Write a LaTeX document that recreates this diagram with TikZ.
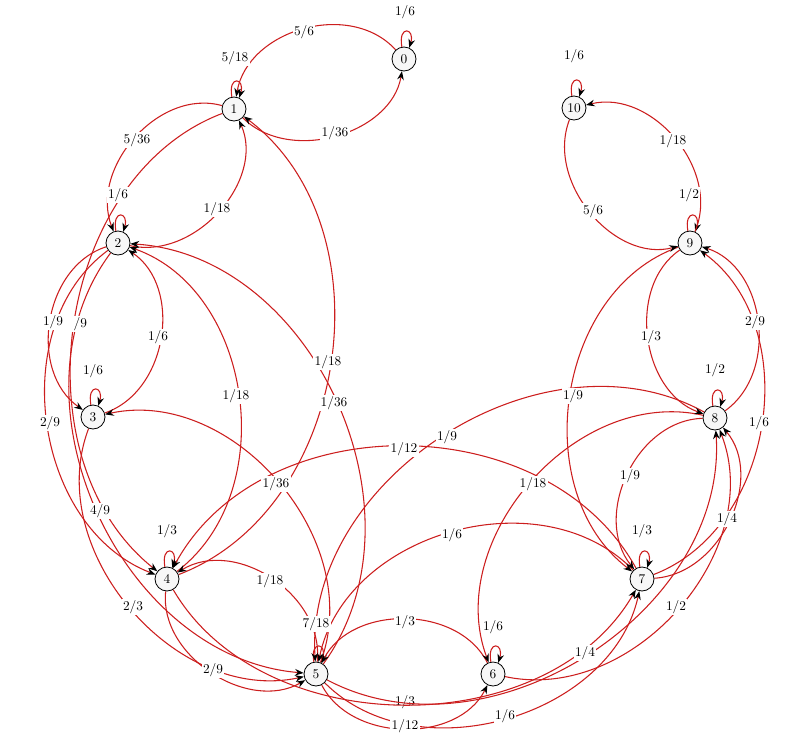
\documentclass[tikz,border=0pt]{standalone}
\usetikzlibrary{calc,arrows.meta}
\pgfdeclarelayer{edgelayer}
\pgfsetlayers{edgelayer,main}
\definecolor{edgered}{RGB}{204,30,30}
% curved edge from #1 to #2 passing through label node #3 at its middle
\newcommand\mkedge[3]{\draw[edge] (#1) .. controls ($(#1)!0.2!(#2)+1.3333*(#3)-0.6667*(#1)-0.6667*(#2)$) and ($(#2)!0.2!(#1)+1.3333*(#3)-0.6667*(#1)-0.6667*(#2)$) .. (#2);}
\newcommand\mkloop[1]{\draw[edge] (#1.100) .. controls +(-4,22) and +(6,20) .. (#1.65);}
\begin{document}
\begin{tikzpicture}[x=0.75pt,y=0.75pt,
  state/.style={circle,draw=black,line width=0.6pt,fill=black!3,minimum size=18pt,inner sep=0pt},
  lbl/.style={fill=white,inner sep=1pt},
  edge/.style={draw=edgered,line width=0.8pt,-{Stealth[length=6.5pt,width=5pt,color=black]}}]
\useasboundingbox (0,0) rectangle (800,-739);
% states
\node[state] (s0) at (404,-59) {0};
\node[state] (s1) at (234,-109) {1};
\node[state] (s2) at (118,-243) {2};
\node[state] (s3) at (93,-417) {3};
\node[state] (s4) at (167,-579) {4};
\node[state] (s5) at (316,-674) {5};
\node[state] (s6) at (493,-674) {6};
\node[state] (s7) at (642,-579) {7};
\node[state] (s8) at (715,-418) {8};
\node[state] (s9) at (690,-243) {9};
\node[state] (s10) at (574,-108) {10};
% loop labels
\node[lbl] (l0) at (405,-12) {$1/6$};
\node[lbl] (l1) at (235,-58) {$5/18$};
\node[lbl] (l2) at (118,-195) {$1/6$};
\node[lbl] (l3) at (93,-371) {$1/6$};
\node[lbl] (l4) at (167,-531) {$1/3$};
\node[lbl] (l5) at (316,-624) {$7/18$};
\node[lbl] (l6) at (493,-627) {$1/6$};
\node[lbl] (l7) at (642,-531) {$1/3$};
\node[lbl] (l8) at (715,-370) {$1/2$};
\node[lbl] (l9) at (689,-195) {$1/2$};
\node[lbl] (l10) at (574,-56) {$1/6$};
% edge labels
\node[lbl] (e1) at (304,-32) {$5/6$};
\node[lbl] (e2) at (335,-133) {$1/36$};
\node[lbl] (e3) at (137,-140) {$5/36$};
\node[lbl] (e4) at (217,-209) {$1/18$};
\node[lbl] (e5) at (53,-322) {$1/9$};
\node[lbl] (e6) at (77,-324) {$\phantom{5}/9$};
\node[lbl] (e7) at (158,-337) {$1/6$};
\node[lbl] (e8) at (236,-396) {$1/18$};
\node[lbl] (e9) at (328,-362) {$1/18$};
\node[lbl] (e10) at (334,-403) {$1/36$};
\node[lbl] (e11) at (50,-423) {$2/9$};
\node[lbl] (e12) at (100,-511) {$4/9$};
\node[lbl] (e13) at (276,-484) {$1/36$};
\node[lbl] (e14) at (404,-449) {$1/12$};
\node[lbl] (e15) at (447,-437) {$1/9$};
\node[lbl] (e16) at (270,-581) {$1/18$};
\node[lbl] (e17) at (133,-607) {$2/3$};
\node[lbl] (e18) at (213,-670) {$2/9$};
\node[lbl] (e19) at (405,-622) {$1/3$};
\node[lbl] (e21) at (405,-726) {$1/12$};
\node[lbl] (e22) at (505,-716) {$1/6$};
\node[lbl] (e23) at (585,-653) {$1/4$};
\node[lbl] (e24) at (452,-535) {$1/6$};
\node[lbl] (e25) at (533,-484) {$1/18$};
\node[lbl] (e26) at (573,-396) {$1/9$};
\node[lbl] (e27) at (630,-476) {$1/9$};
\node[lbl] (e28) at (727,-519) {$1/4$};
\node[lbl] (e29) at (676,-607) {$1/2$};
\node[lbl] (e30) at (759,-423) {$1/6$};
\node[lbl] (e31) at (755,-322) {$2/9$};
\node[lbl] (e32) at (651,-337) {$1/3$};
\node[lbl] (e33) at (673,-141) {$1/18$};
\node[lbl] (e34) at (593,-211) {$5/6$};
\begin{pgfonlayer}{edgelayer}
\node[lbl] (e20) at (405,-702) {$1/3$};
% self loops
\mkloop{s0}\mkloop{s1}\mkloop{s2}\mkloop{s3}\mkloop{s4}\mkloop{s5}
\mkloop{s6}\mkloop{s7}\mkloop{s8}\mkloop{s9}\mkloop{s10}
% transitions
\mkedge{s4}{s7}{e20}
\mkedge{s0}{s1}{e1}
\mkedge{s1}{s0}{e2}
\mkedge{s1}{s2}{e3}
\mkedge{s2}{s1}{e4}
\mkedge{s2}{s3}{e5}
\mkedge{s1}{s4}{e6}
\mkedge{s3}{s2}{e7}
\mkedge{s4}{s2}{e8}
\mkedge{s4}{s1}{e9}
\mkedge{s5}{s2}{e10}
\mkedge{s2}{s4}{e11}
\mkedge{s2}{s5}{e12}
\mkedge{s5}{s3}{e13}
\mkedge{s7}{s4}{e14}
\mkedge{s8}{s5}{e15}
\mkedge{s5}{s4}{e16}
\mkedge{s3}{s5}{e17}
\mkedge{s4}{s5}{e18}
\mkedge{s6}{s5}{e19}
\mkedge{s5}{s6}{e21}
\mkedge{s5}{s7}{e22}
\mkedge{s5}{s8}{e23}
\mkedge{s7}{s5}{e24}
\mkedge{s8}{s6}{e25}
\mkedge{s9}{s7}{e26}
\mkedge{s8}{s7}{e27}
\mkedge{s7}{s8}{e28}
\mkedge{s6}{s8}{e29}
\mkedge{s7}{s9}{e30}
\mkedge{s8}{s9}{e31}
\mkedge{s9}{s8}{e32}
\mkedge{s9}{s10}{e33}
\mkedge{s10}{s9}{e34}
\end{pgfonlayer}
\end{tikzpicture}
\end{document}
